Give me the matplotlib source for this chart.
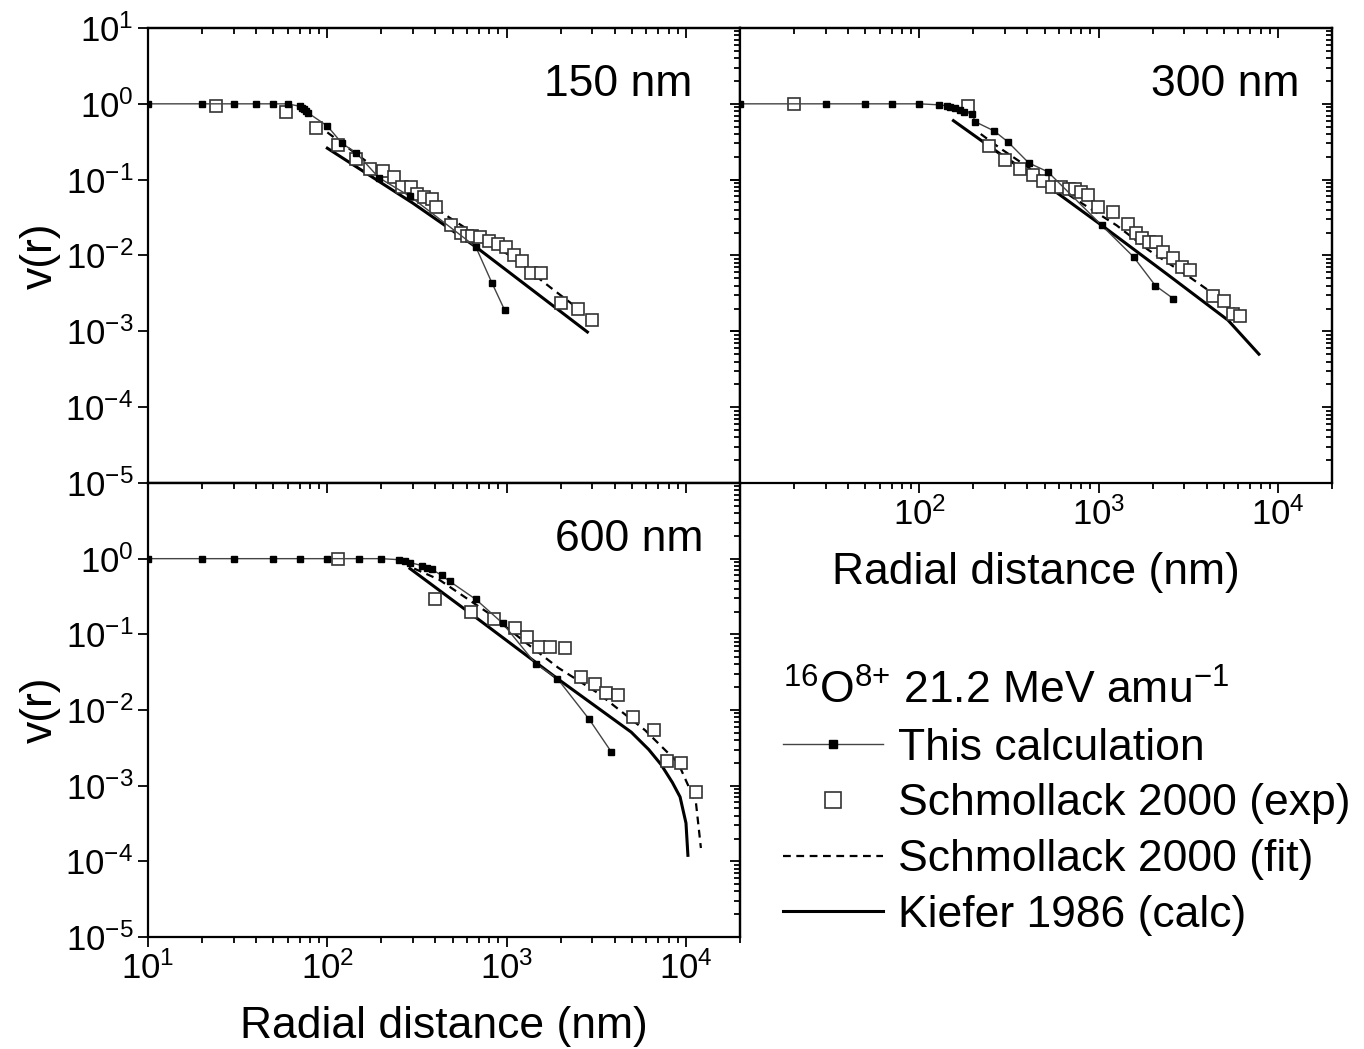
import numpy as np
import matplotlib
matplotlib.use('Agg')
import matplotlib.pyplot as plt

plt.rcParams['font.family'] = 'Liberation Sans'
plt.rcParams['mathtext.fontset'] = 'custom'
plt.rcParams['mathtext.rm'] = 'Liberation Sans'
plt.rcParams['mathtext.it'] = 'Liberation Sans:italic'
plt.rcParams['mathtext.bf'] = 'Liberation Sans:bold'
plt.rcParams['mathtext.default'] = 'regular'

#%% data (r in nm, v(r))
# 150 nm
calc150_r = [10, 20, 30, 40, 50, 60, 70, 72, 74, 76, 78, 100, 121, 145, 194, 290, 673, 826, 975]
calc150_v = [1.0, 1.0, 1.0, 1.0, 1.0, 1.0, 0.93, 0.89, 0.85, 0.80, 0.76, 0.51, 0.30, 0.225, 0.106, 0.06, 0.013, 0.0044, 0.0019]
exp150_r = [24, 59, 87, 115, 145, 173, 205, 236, 261, 293, 316, 346, 383, 403, 489, 555, 600, 640, 707,
            794, 891, 987, 1094, 1211, 1359, 1563, 2021, 2512, 3006]
exp150_v = [0.94, 0.78, 0.48, 0.29, 0.19, 0.14, 0.13, 0.11, 0.080, 0.080, 0.065, 0.059, 0.056, 0.044, 0.025,
            0.020, 0.018, 0.018, 0.0177, 0.0156, 0.014, 0.013, 0.010, 0.0085, 0.0059, 0.0059, 0.0024, 0.0020, 0.0014]
fit150_r = [100, 187, 275, 476, 700, 1026, 1778, 2570]
fit150_v = [0.42, 0.14, 0.080, 0.032, 0.0177, 0.0102, 0.0037, 0.0019]
kief150_r = [100, 300, 673, 2820]
kief150_v = [0.26, 0.049, 0.013, 0.00098]

# 300 nm
calc300_r = [10, 30, 50, 70, 100, 129, 143, 149, 158, 169, 178, 197, 205, 261, 312, 408, 521, 1040, 1565, 2073, 2610]
calc300_v = [1.0, 1.0, 1.0, 1.0, 1.0, 0.97, 0.94, 0.91, 0.89, 0.83, 0.78, 0.74, 0.58, 0.44, 0.315, 0.166, 0.127,
             0.025, 0.0096, 0.0040, 0.0027]
exp300_r = [20, 187, 245, 300, 364, 430, 489, 548, 615, 681, 736, 794, 869, 987, 1197, 1449, 1606, 1754, 1918,
            2099, 2296, 2610, 2929, 3245, 4355, 5012, 5623, 6152]
exp300_v = [1.0, 0.94, 0.28, 0.18, 0.14, 0.115, 0.096, 0.081, 0.081, 0.076, 0.076, 0.069, 0.063, 0.044, 0.038,
            0.026, 0.020, 0.017, 0.015, 0.015, 0.011, 0.0093, 0.0071, 0.0065, 0.0029, 0.0025, 0.0017, 0.0016]
fit300_r = [220, 282, 727, 1259, 1897, 3289, 5698]
fit300_v = [0.40, 0.26, 0.057, 0.025, 0.0118, 0.0050, 0.0020]
kief300_r = [155, 289, 482, 1040, 2450, 5270, 7830]
kief300_v = [0.60, 0.21, 0.094, 0.025, 0.0055, 0.0014, 0.0005]

# 600 nm
calc600_r = [10, 20, 30, 50, 70, 100, 150, 200, 250, 270, 290, 337, 359, 383, 435, 482, 673, 950, 1449, 1918, 2890, 3831]
calc600_v = [1.0, 1.0, 1.0, 1.0, 1.0, 1.0, 1.0, 1.0, 0.97, 0.94, 0.885, 0.81, 0.76, 0.72, 0.60, 0.50, 0.29, 0.14,
             0.041, 0.026, 0.0075, 0.0028]
exp600_r = [115, 398, 631, 847, 1107, 1291, 1524, 1754, 2128, 2610, 3119, 3594, 4188, 5078, 6637, 7834, 9376, 11370]
exp600_v = [1.0, 0.29, 0.20, 0.16, 0.12, 0.093, 0.069, 0.069, 0.065, 0.027, 0.022, 0.017, 0.016, 0.0080,
            0.0055, 0.0021, 0.0020, 0.00082]
fit600_r = [305, 419, 794, 1275, 1945, 3245, 5916, 9036, 11370, 12110]
fit600_v = [0.74, 0.53, 0.19, 0.078, 0.036, 0.0166, 0.0054, 0.0020, 0.00059, 0.00015]
kief600_r = [289, 698, 1918, 4950, 6200, 7261, 8400, 9268, 10000, 10250]
kief600_v = [0.74, 0.157, 0.026, 0.0051, 0.0030, 0.0019, 0.0011, 0.00071, 0.00032, 0.00012]

labels = ['This calculation', 'Schmollack 2000 (exp)', 'Schmollack 2000 (fit)', 'Kiefer 1986 (calc)']
header = r'$^{16}$O$^{8{+}}$ 21.2 MeV amu$^{-1}$'


def style_axes(ax):
    ax.set_xscale('log')
    ax.set_yscale('log')
    ax.set_xlim(10, 2e4)
    ax.set_ylim(1e-5, 10)
    ax.tick_params(which='both', direction='out', top=False, right=False, width=1.3, labelsize=25)
    ax.tick_params(which='major', length=7)
    ax.tick_params(which='minor', length=4)
    for s in ax.spines.values():
        s.set_linewidth(1.6)
    # inward ticks on top and right side
    secx = ax.secondary_xaxis('top')
    secx.tick_params(which='both', direction='in', labeltop=False, width=1.3)
    secx.tick_params(which='major', length=7)
    secx.tick_params(which='minor', length=4)
    secx.spines['top'].set_linewidth(1.6)
    secy = ax.secondary_yaxis('right')
    secy.tick_params(which='both', direction='in', labelright=False, width=1.3)
    secy.tick_params(which='major', length=7)
    secy.tick_params(which='minor', length=4)
    secy.spines['right'].set_linewidth(1.6)


def panel(ax, calc_r, calc_v, exp_r, exp_v, fit_r, fit_v, kief_r, kief_v, txt, tx):
    h1, = ax.plot(calc_r, calc_v, '-', color='#444444', lw=1.0, marker='s', ms=4.8,
                  mfc='black', mec='black', zorder=4, label=labels[0])
    h2, = ax.plot(exp_r, exp_v, ls='none', marker='s', ms=8.5, mfc='white', mec='#333333',
                  mew=1.2, zorder=3, label=labels[1])
    h3, = ax.plot(fit_r, fit_v, color='black', lw=1.6, ls=(0, (3.5, 2.5)), zorder=2, label=labels[2])
    h4, = ax.plot(kief_r, kief_v, color='black', lw=2.2, zorder=2, label=labels[3])
    style_axes(ax)
    ax.text(tx, 0.875, txt, transform=ax.transAxes, ha='right', va='center', fontsize=32)
    return [h1, h2, h3, h4]


fig = plt.figure(figsize=(13.64, 10.49), dpi=100)
ax1 = fig.add_axes([0.1085, 0.53956, 0.434, 0.43375])
ax2 = fig.add_axes([0.5425, 0.53956, 0.434, 0.43375])
ax3 = fig.add_axes([0.1085, 0.10677, 0.434, 0.4328])

panel(ax1, calc150_r, calc150_v, exp150_r, exp150_v, fit150_r, fit150_v, kief150_r, kief150_v, '150 nm', 0.919)
panel(ax2, calc300_r, calc300_v, exp300_r, exp300_v, fit300_r, fit300_v, kief300_r, kief300_v, '300 nm', 0.945)
handles = panel(ax3, calc600_r, calc600_v, exp600_r, exp600_v, fit600_r, fit600_v, kief600_r, kief600_v,
                '600 nm', 0.9375)

ax1.set_yticks([1e-5, 1e-4, 1e-3, 1e-2, 1e-1, 1e0, 1e1])
ax1.tick_params(axis='x', labelbottom=False)
ax2.set_xticks([1e2, 1e3, 1e4])
ax2.tick_params(axis='y', labelleft=False)
ax3.set_yticks([1e-5, 1e-4, 1e-3, 1e-2, 1e-1, 1e0])
ax3.set_xticks([1e1, 1e2, 1e3, 1e4])

ax1.set_ylabel('v(r)', fontsize=32)
ax3.set_ylabel('v(r)', fontsize=32)
ax1.yaxis.set_label_coords(-0.148, 0.5)
ax3.yaxis.set_label_coords(-0.148, 0.5)
ax2.set_xlabel('Radial distance (nm)', fontsize=32)
ax3.set_xlabel('Radial distance (nm)', fontsize=32)
ax2.xaxis.set_label_coords(0.5, -0.152)
ax3.xaxis.set_label_coords(0.5, -0.152)

fig.legend(handles, labels, loc='upper left', bbox_to_anchor=(0.574, 0.3613), frameon=False,
           fontsize=32, title=header, title_fontsize=32, alignment='left', handlelength=2.25,
           handletextpad=0.35, labelspacing=0.33, borderpad=0, borderaxespad=0, markerscale=1.3)

plt.savefig('out.png', dpi=100)
